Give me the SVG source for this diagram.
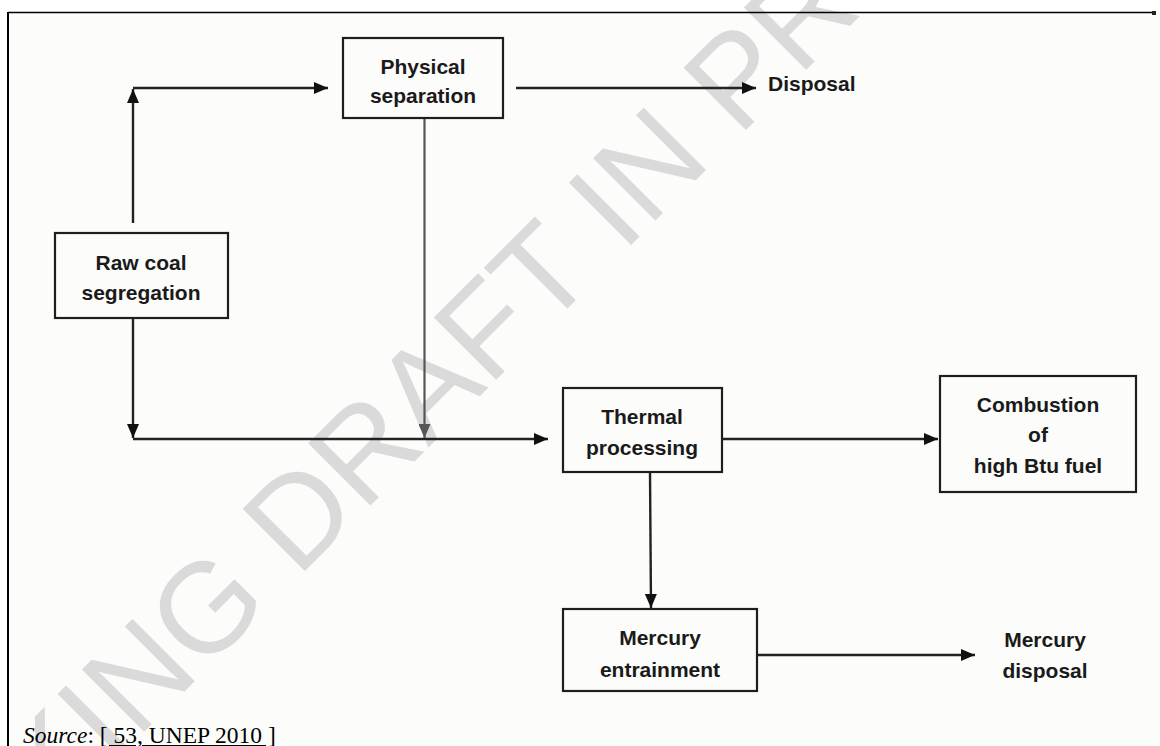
<svg xmlns="http://www.w3.org/2000/svg" width="1160" height="746" viewBox="0 0 1160 746">
<style>
.box{fill:none;stroke:#1e1e1e;stroke-width:2.2}
.lbl{font-family:"Liberation Sans",Arial,sans-serif;font-weight:bold;font-size:21px;fill:#1a1a1a;text-anchor:middle}
.cn{fill:none;stroke:#222;stroke-width:2.4}
.wm{font-family:"Liberation Sans",Arial,sans-serif;font-size:128px;fill:#dadada}
.src{font-family:"Liberation Serif","Times New Roman",serif;font-size:23.5px;fill:#000}
</style>
<defs>
<marker id="ah" viewBox="0 0 14 12" refX="14" refY="6" markerWidth="14" markerHeight="12" markerUnits="userSpaceOnUse" orient="auto">
<path d="M0,0 L14,6 L0,12 Z" fill="#111"/>
</marker>
<marker id="ahg" viewBox="0 0 14 12" refX="14" refY="6" markerWidth="14" markerHeight="12" markerUnits="userSpaceOnUse" orient="auto">
<path d="M0,0 L14,6 L0,12 Z" fill="#555"/>
</marker>
</defs>
<rect x="0" y="0" width="1160" height="746" fill="#ffffff"/>
<rect x="9" y="13" width="1151" height="733" fill="#fcfcfa"/>
<g id="watermark">
<text class="wm" x="-170" y="1046" transform="rotate(-45 -170 1046)">WORKING DRAFT IN PROGRESS</text>
</g>
<g id="frame">
<line x1="8" y1="12.5" x2="1155" y2="12.5" stroke="#000" stroke-width="1.5"/>
<line x1="8" y1="12" x2="8" y2="746" stroke="#000" stroke-width="2"/>
<rect x="1152" y="11" width="4" height="4" fill="#222"/>
</g>
<g id="connectors">
<polyline class="cn" points="133,223 133,89" marker-end="url(#ah)"/>
<polyline class="cn" points="133,88 328,88" marker-end="url(#ah)"/>
<polyline class="cn" points="133,318 133,438" marker-end="url(#ah)"/>
<polyline class="cn" points="133,439 548,439" marker-end="url(#ah)"/>
<polyline class="cn" points="516,88 756,88" marker-end="url(#ah)"/>
<polyline points="424.5,118 424.5,438" fill="none" stroke="#555" stroke-width="2.2" marker-end="url(#ahg)"/>
<polyline class="cn" points="722,439 938,439" marker-end="url(#ah)"/>
<polyline class="cn" points="650,472 651,608" marker-end="url(#ah)"/>
<polyline class="cn" points="757,655 975,655" marker-end="url(#ah)"/>
</g>
<g id="node-physical">
<rect class="box" x="343" y="38" width="160" height="80"/>
<text class="lbl" x="423" y="74">Physical</text>
<text class="lbl" x="423" y="103">separation</text>
</g>
<g id="node-disposal">
<text class="lbl" x="768" y="91" style="text-anchor:start">Disposal</text>
</g>
<g id="node-rawcoal">
<rect class="box" x="55" y="233" width="173" height="85"/>
<text class="lbl" x="141" y="270">Raw coal</text>
<text class="lbl" x="141" y="300">segregation</text>
</g>
<g id="node-thermal">
<rect class="box" x="563" y="388" width="159" height="84"/>
<text class="lbl" x="642" y="424">Thermal</text>
<text class="lbl" x="642" y="455">processing</text>
</g>
<g id="node-combustion">
<rect class="box" x="940" y="376" width="196" height="116"/>
<text class="lbl" x="1038" y="412">Combustion</text>
<text class="lbl" x="1038" y="442">of</text>
<text class="lbl" x="1038" y="473">high Btu fuel</text>
</g>
<g id="node-mercury">
<rect class="box" x="563" y="609" width="194" height="82"/>
<text class="lbl" x="660" y="645">Mercury</text>
<text class="lbl" x="660" y="677">entrainment</text>
</g>
<g id="node-mercury-disposal">
<text class="lbl" x="1045" y="647">Mercury</text>
<text class="lbl" x="1045" y="678">disposal</text>
</g>
<g id="source">
<text class="src" x="23" y="743"><tspan font-style="italic">Source</tspan>: <tspan text-decoration="underline">[ 53, UNEP 2010 ]</tspan></text>
</g>
</svg>
